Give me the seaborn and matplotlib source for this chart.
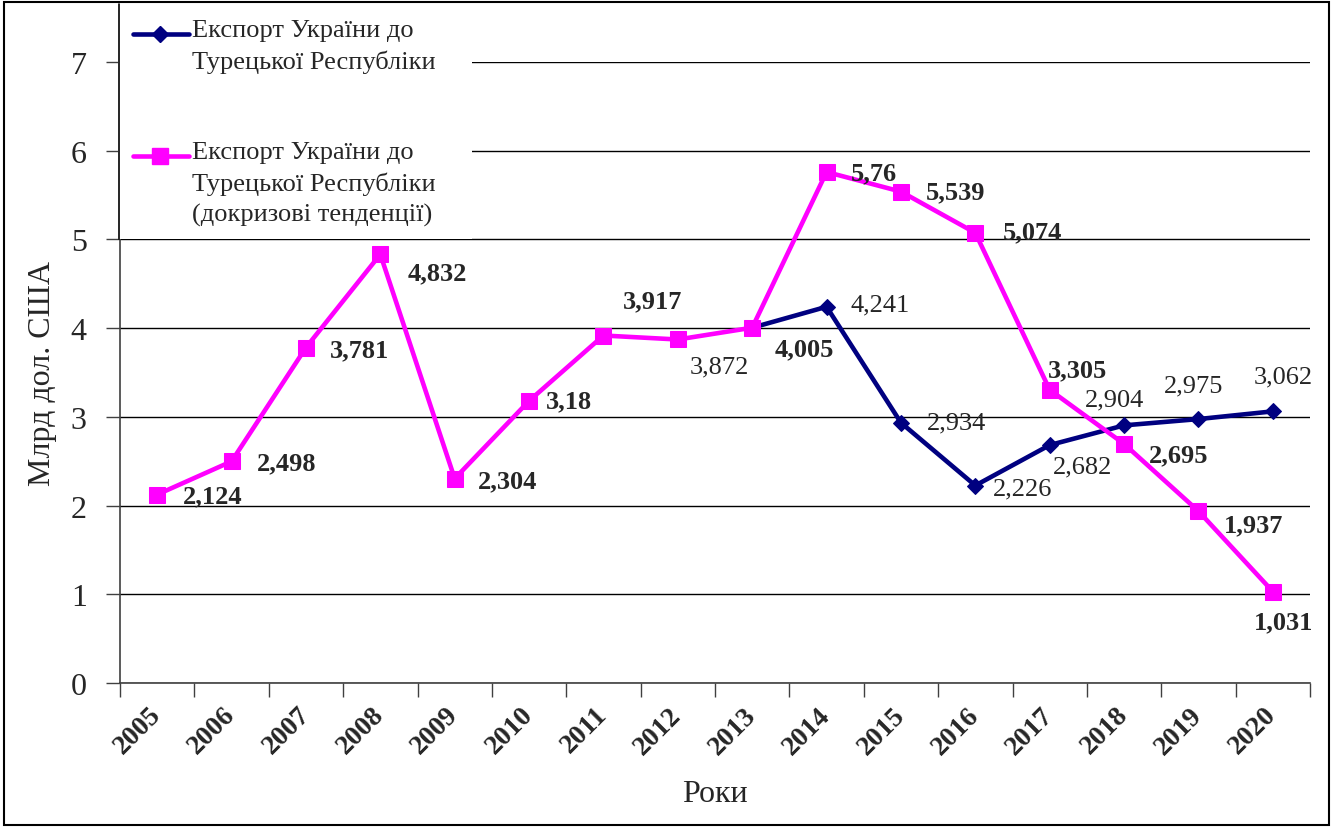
import numpy as np
import matplotlib
matplotlib.use("Agg")
import matplotlib.pyplot as plt
import seaborn as sns
from matplotlib.patches import Rectangle
from matplotlib.lines import Line2D

# data
years = list(range(2005, 2021))
precrisis = [2.124, 2.498, 3.781, 4.832, 2.304, 3.18, 3.917, 3.872,
             4.005, 5.76, 5.539, 5.074, 3.305, 2.695, 1.937, 1.031]
actual_years = list(range(2013, 2021))
actual = [4.005, 4.241, 2.934, 2.226, 2.682, 2.904, 2.975, 3.062]

legend_actual = "Експорт України до\nТурецької Республіки"
legend_precrisis = "Експорт України до\nТурецької Республіки\n(докризові тенденції)"

# label placement (pixel offsets of label centre from the point)
pink_off = [(56, -1), (55, -1), (54, -2), (57, -18), (53, -2), (40, 0), (49, 35), (42, -27),
            (52, -21), (47, -1), (55, 0), (57, 1), (28, 20), (55, -11), (55, -14), (11, -30)]
pink_bold = [True] * 16
pink_bold[7] = False
navy_off = [None, (54, 2), (56, 0), (47, -3), (33, -21), (-10, 26), (-5, 34), (10, 35)]

NAVY = "#000080"
PINK = "#FF00FF"
W, H = 1333, 829

sns.set_style("ticks")
plt.rcParams["font.family"] = ["Liberation Serif", "DejaVu Serif"]


def fmt(v):
    return f"{v:g}".replace(".", ",")


def px(x, y):
    return x / W, 1 - y / H


fig = plt.figure(figsize=(W / 100, H / 100), dpi=100)
ax = fig.add_axes([120 / W, 1 - 684 / H, 1190 / W, (684 - 63) / H])

sns.lineplot(x=actual_years, y=actual, ax=ax, color=NAVY, lw=3.3, marker="D",
             markersize=8, markeredgecolor=NAVY, zorder=3)
sns.lineplot(x=years, y=precrisis, ax=ax, color=PINK, lw=3.3, marker="s",
             markersize=11, markeredgecolor=PINK, zorder=4)

for x, v, off, b in zip(years, precrisis, pink_off, pink_bold):
    ax.annotate(fmt(v), (x, v), xytext=off, textcoords="offset pixels",
                ha="center", va="center", fontsize=19,
                fontweight="bold" if b else "normal", zorder=5)
for x, v, off in zip(actual_years, actual, navy_off):
    if off is None:
        continue
    ax.annotate(fmt(v), (x, v), xytext=off, textcoords="offset pixels",
                ha="center", va="center", fontsize=19, zorder=5)

ax.set_xlim(2004.5, 2020.5)
ax.set_ylim(0, 7)
ax.set_yticks(range(0, 8))
ax.set_xticks(years)
ax.set_xticklabels(years, rotation=45, fontweight="bold", fontsize=20,
                   ha="right", va="center", rotation_mode="anchor")
ax.set_xticks(np.arange(2004.5, 2021), minor=True)
ax.tick_params(axis="x", which="major", length=0, pad=20)
ax.tick_params(axis="x", which="minor", length=10, width=1, color="#404040")
ax.tick_params(axis="y", length=10, width=1, color="#404040", pad=14, labelsize=23)
ax.yaxis.grid(True, color="black", lw=1)
ax.set_axisbelow(True)
for s in ["top", "right"]:
    ax.spines[s].set_visible(False)
for s in ["left", "bottom"]:
    ax.spines[s].set_color("#404040")
    ax.spines[s].set_linewidth(1.2)

ax.set_ylabel("Млрд дол. США", fontsize=23)
ax.yaxis.set_label_coords(-0.053, 0.5)
ax.set_xlabel("Роки", fontsize=23, va="top")
ax.xaxis.set_label_coords(0.5, -0.155)

# legend drawn by hand (handles sit on the first text line)
fig.patches.append(Rectangle(px(118, 240), (472 - 118) / W, 235 / H, transform=fig.transFigure,
                             facecolor="white", edgecolor="none", zorder=2))
fig.lines.append(Line2D([118.5 / W] * 2, [1 - 5 / H, 1 - 240 / H], color="black", lw=1.2,
                        transform=fig.transFigure, zorder=3))
for y_h, y_t, col, mk, ms, txt in [(35, 20, NAVY, "D", 8, legend_actual),
                                   (157, 142, PINK, "s", 11, legend_precrisis)]:
    fig.lines.append(Line2D([133 / W, 189 / W], [1 - y_h / H] * 2, color=col, lw=3.3,
                            transform=fig.transFigure, zorder=3))
    fig.lines.append(Line2D([160 / W], [1 - y_h / H], marker=mk, ms=ms, color=col,
                            transform=fig.transFigure, zorder=3))
    fig.text(192 / W, 1 - y_t / H, txt, ha="left", va="top", fontsize=19,
             linespacing=1.45, zorder=4)

fig.patches.append(Rectangle((0.003, 0.004), 0.994, 0.992, transform=fig.transFigure,
                             fill=False, edgecolor="black", lw=1.5, zorder=6))

fig.savefig("out.png", dpi=100)
